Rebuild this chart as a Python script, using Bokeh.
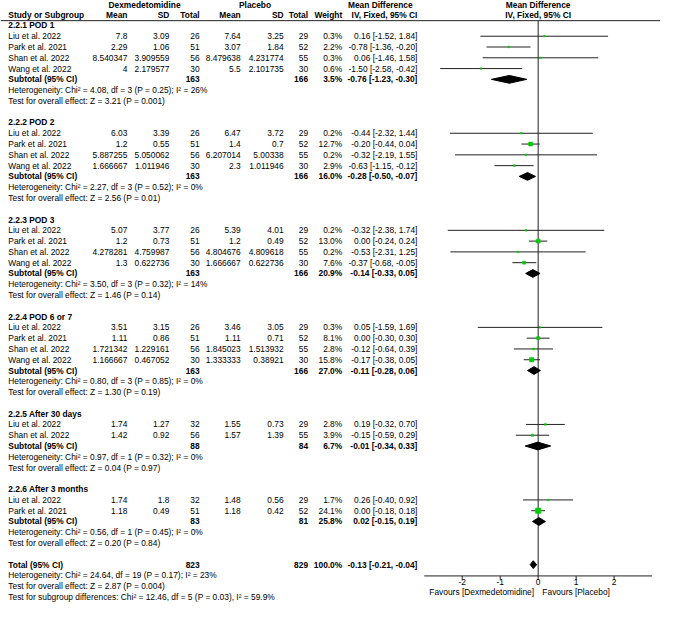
import math
from bokeh.plotting import figure
from bokeh.models import Range1d, ColumnDataSource
from bokeh.embed import file_html
from bokeh.resources import INLINE
from bokeh.core.properties import value

# ---------------- data ----------------
subgroup_titles = ["2.2.1 POD 1", "2.2.2 POD 2", "2.2.3 POD 3", "2.2.4 POD 6 or 7",
                   "2.2.5 After 30 days", "2.2.6 After 3 months"]
study_names = [
    ["Liu et al. 2022", "Park et al. 2021", "Shan et al. 2022", "Wang et al. 2022"],
    ["Liu et al. 2022", "Park et al. 2021", "Shan et al. 2022", "Wang et al. 2022"],
    ["Liu et al. 2022", "Park et al. 2021", "Shan et al. 2022", "Wang et al. 2022"],
    ["Liu et al. 2022", "Park et al. 2021", "Shan et al. 2022", "Wang et al. 2022"],
    ["Liu et al. 2022", "Shan et al. 2022"],
    ["Liu et al. 2022", "Park et al. 2021"],
]
dex_mean = [[7.8, 2.29, 8.540347, 4], [6.03, 1.2, 5.887255, 1.666667],
            [5.07, 1.2, 4.278281, 1.3], [3.51, 1.11, 1.721342, 1.166667],
            [1.74, 1.42], [1.74, 1.18]]
dex_sd = [[3.09, 1.06, 3.909559, 2.179577], [3.39, 0.55, 5.050062, 1.011946],
          [3.77, 0.73, 4.759987, 0.622736], [3.15, 0.86, 1.229161, 0.467052],
          [1.27, 0.92], [1.8, 0.49]]
dex_n = [[26, 51, 56, 30], [26, 51, 56, 30], [26, 51, 56, 30], [26, 51, 56, 30],
         [32, 56], [32, 51]]
pla_mean = [[7.64, 3.07, 8.479638, 5.5], [6.47, 1.4, 6.207014, 2.3],
            [5.39, 1.2, 4.804676, 1.666667], [3.46, 1.11, 1.845023, 1.333333],
            [1.55, 1.57], [1.48, 1.18]]
pla_sd = [[3.25, 1.84, 4.231774, 2.101735], [3.72, 0.7, 5.00338, 1.011946],
          [4.01, 0.49, 4.809618, 0.622736], [3.05, 0.71, 1.513932, 0.38921],
          [0.73, 1.39], [0.56, 0.42]]
pla_n = [[29, 52, 55, 30], [29, 52, 55, 30], [29, 52, 55, 30], [29, 52, 55, 30],
         [29, 55], [29, 52]]
weight = [[0.3, 2.2, 0.3, 0.6], [0.2, 12.7, 0.2, 2.9], [0.2, 13.0, 0.2, 7.6],
          [0.3, 8.1, 2.8, 15.8], [2.8, 3.9], [1.7, 24.1]]
md = [[0.16, -0.78, 0.06, -1.50], [-0.44, -0.20, -0.32, -0.63], [-0.32, 0.00, -0.53, -0.37],
      [0.05, 0.00, -0.12, -0.17], [0.19, -0.15], [0.26, 0.00]]
ci_lo = [[-1.52, -1.36, -1.46, -2.58], [-2.32, -0.44, -2.19, -1.15], [-2.38, -0.24, -2.31, -0.68],
         [-1.59, -0.30, -0.64, -0.38], [-0.32, -0.59], [-0.40, -0.18]]
ci_hi = [[1.84, -0.20, 1.58, -0.42], [1.44, 0.04, 1.55, -0.12], [1.74, 0.24, 1.25, -0.05],
         [1.69, 0.30, 0.39, 0.05], [0.70, 0.29], [0.92, 0.18]]
sub_dex_n = [163, 163, 163, 163, 88, 83]
sub_pla_n = [166, 166, 166, 166, 84, 81]
sub_weight = [3.5, 16.0, 20.9, 27.0, 6.7, 25.8]
sub_md = [-0.76, -0.28, -0.14, -0.11, -0.01, 0.02]
sub_lo = [-1.23, -0.50, -0.33, -0.28, -0.34, -0.15]
sub_hi = [-0.30, -0.07, 0.05, 0.06, 0.33, 0.19]
het_chi2 = ["4.08", "2.27", "3.50", "0.80", "0.97", "0.56"]
het_df = [3, 3, 3, 3, 1, 1]
het_p = ["0.25", "0.52", "0.32", "0.85", "0.32", "0.45"]
het_i2 = ["26%", "0%", "14%", "0%", "0%", "0%"]
z_val = ["3.21", "2.56", "1.46", "1.30", "0.04", "0.20"]
z_p = ["0.001", "0.01", "0.14", "0.19", "0.97", "0.84"]
total_dex_n = 823
total_pla_n = 829
total_weight = 100.0
total_md, total_lo, total_hi = -0.13, -0.21, -0.04
total_het = "Heterogeneity: Chi\u00b2 = 24.64, df = 19 (P = 0.17); I\u00b2 = 23%"
total_z = "Test for overall effect: Z = 2.87 (P = 0.004)"
subgroup_diff = "Test for subgroup differences: Chi\u00b2 = 12.46, df = 5 (P = 0.03), I\u00b2 = 59.9%"
axis_ticks = [-2, -1, 0, 1, 2]
axis_tick_labels = ["-2", "-1", "0", "1", "2"]
axis_limits = (-3, 3)
favours_left = "Favours [Dexmedetomidine]"
favours_right = "Favours [Placebo]"

# ---------------- layout constants (reference pixel space) ----------------
W_REF, H_REF = 676, 619
ROW0, PITCH = 25.6, 11.07
ZERO_PX, UNIT_PX = 550.7, 38.9
X_NAME = 8
X_DMEAN, X_DSD, X_DN = 130, 173, 204
X_PMEAN, X_PSD, X_PN = 246, 290, 315
X_W, X_CI = 350, 427
HDR1_Y, HDR2_Y, HLINE_Y = 4.8, 15.0, 20.7
AXIS_Y = 590.7
FS = "8.4px"
FONT = "Liberation Sans"
GREEN = "#00cc00"
LINE_C = "#222222"


def ry(k):
    return ROW0 + PITCH * k


def fnum(v):
    s = ("%f" % v).rstrip("0").rstrip(".")
    return s


def fci(m, lo, hi):
    return "%.2f [%.2f, %.2f]" % (m, lo, hi)


texts = {}


def add(x, y, t, align="left", bold=False):
    key = (align, bold)
    d = texts.setdefault(key, {"x": [], "y": [], "text": []})
    d["x"].append(x)
    d["y"].append(y)
    d["text"].append(t)


# headers
add(147.5, HDR1_Y, "Dexmedetomidine", "center", True)
add(260.7, HDR1_Y, "Placebo", "center", True)
add(389, HDR1_Y, "Mean Difference", "center", True)
add(ZERO_PX, HDR1_Y, "Mean Difference", "center", True)
add(X_NAME, HDR2_Y, "Study or Subgroup", "left", True)
for x, t in [(X_DMEAN, "Mean"), (X_DSD, "SD"), (X_DN, "Total"), (X_PMEAN, "Mean"),
             (X_PSD, "SD"), (X_PN, "Total"), (X_W, "Weight"), (X_CI, "IV, Fixed, 95% CI")]:
    add(x, HDR2_Y, t, "right", True)
add(ZERO_PX, HDR2_Y, "IV, Fixed, 95% CI", "center", True)

st = {"x0": [], "x1": [], "y": [], "mx": [], "size": []}
dia = {"xs": [], "ys": []}
DH = 4.0

row = 0
for g in range(len(subgroup_titles)):
    add(X_NAME, ry(row), subgroup_titles[g], "left", True)
    row += 1
    for i in range(len(study_names[g])):
        y = ry(row)
        add(X_NAME, y, study_names[g][i])
        add(X_DMEAN, y, fnum(dex_mean[g][i]), "right")
        add(X_DSD, y, fnum(dex_sd[g][i]), "right")
        add(X_DN, y, str(dex_n[g][i]), "right")
        add(X_PMEAN, y, fnum(pla_mean[g][i]), "right")
        add(X_PSD, y, fnum(pla_sd[g][i]), "right")
        add(X_PN, y, str(pla_n[g][i]), "right")
        add(X_W, y, "%.1f%%" % weight[g][i], "right")
        add(X_CI, y, fci(md[g][i], ci_lo[g][i], ci_hi[g][i]), "right")
        st["x0"].append(ci_lo[g][i])
        st["x1"].append(ci_hi[g][i])
        st["y"].append(y)
        st["mx"].append(md[g][i])
        st["size"].append(max(1.6, 1.1 * math.sqrt(weight[g][i])))
        row += 1
    y = ry(row)
    add(X_NAME, y, "Subtotal (95% CI)", "left", True)
    add(X_DN, y, str(sub_dex_n[g]), "right", True)
    add(X_PN, y, str(sub_pla_n[g]), "right", True)
    add(X_W, y, "%.1f%%" % sub_weight[g], "right", True)
    add(X_CI, y, fci(sub_md[g], sub_lo[g], sub_hi[g]), "right", True)
    dia["xs"].append([sub_lo[g], sub_md[g], sub_hi[g], sub_md[g]])
    dia["ys"].append([y, y - DH, y, y + DH])
    row += 1
    add(X_NAME, ry(row), "Heterogeneity: Chi\u00b2 = %s, df = %d (P = %s); I\u00b2 = %s"
        % (het_chi2[g], het_df[g], het_p[g], het_i2[g]))
    row += 1
    add(X_NAME, ry(row), "Test for overall effect: Z = %s (P = %s)" % (z_val[g], z_p[g]))
    row += 2

y = ry(row)
add(X_NAME, y, "Total (95% CI)", "left", True)
add(X_DN, y, str(total_dex_n), "right", True)
add(X_PN, y, str(total_pla_n), "right", True)
add(X_W, y, "%.1f%%" % total_weight, "right", True)
add(X_CI, y, fci(total_md, total_lo, total_hi), "right", True)
dia["xs"].append([total_lo, total_md, total_hi, total_md])
dia["ys"].append([y, y - DH, y, y + DH])
row += 1
add(X_NAME, ry(row), total_het)
row += 1
add(X_NAME, ry(row), total_z)
row += 1
add(X_NAME, ry(row), subgroup_diff)

# ---------------- figure ----------------
p = figure(width=660, height=603, x_range=Range1d(0, W_REF), y_range=Range1d(H_REF, 0),
           output_backend="svg", toolbar_location=None, min_border=0,
           x_axis_type=None, y_axis_type=None)
p.grid.visible = False
p.outline_line_color = None
p.background_fill_color = "white"
p.border_fill_color = "white"
p.extra_x_ranges = {"md": Range1d((0 - ZERO_PX) / UNIT_PX, (W_REF - ZERO_PX) / UNIT_PX)}

# header rule
p.segment(x0=[0], x1=[W_REF], y0=[HLINE_Y], y1=[HLINE_Y], line_color=LINE_C, line_width=1)

# zero line and axis
p.segment(x0=[0], x1=[0], y0=[HLINE_Y], y1=[AXIS_Y], line_color=LINE_C, line_width=1,
          x_range_name="md")
p.segment(x0=[axis_limits[0]], x1=[axis_limits[1]], y0=[AXIS_Y], y1=[AXIS_Y],
          line_color=LINE_C, line_width=1, x_range_name="md")
p.segment(x0=axis_ticks, x1=axis_ticks, y0=[AXIS_Y] * len(axis_ticks),
          y1=[AXIS_Y + 4] * len(axis_ticks), line_color=LINE_C, line_width=1,
          x_range_name="md")
p.text(x=axis_ticks, y=[AXIS_Y + 6.5] * len(axis_ticks), text=axis_tick_labels,
       text_align="center", text_baseline="middle", text_font=value(FONT),
       text_font_size=value(FS), text_color="black", x_range_name="md")
p.text(x=[546.5], y=[607.5], text=[favours_left], text_align="right", text_baseline="middle",
       text_font=value(FONT), text_font_size=value(FS), text_color="black")
p.text(x=[555], y=[607.5], text=[favours_right], text_align="left", text_baseline="middle",
       text_font=value(FONT), text_font_size=value(FS), text_color="black")

# study CIs and squares
src = ColumnDataSource(st)
p.segment(x0="x0", x1="x1", y0="y", y1="y", source=src, line_color=LINE_C, line_width=1,
          x_range_name="md")
p.scatter(x="mx", y="y", size="size", marker="square", source=src, fill_color=GREEN,
          line_color=GREEN, line_width=0.5, x_range_name="md")
p.patches(xs="xs", ys="ys", source=ColumnDataSource(dia), fill_color="black",
          line_color="black", x_range_name="md")

# text
for (align, bold), d in texts.items():
    p.text(x="x", y="y", text="text", source=ColumnDataSource(d), text_align=align,
           text_baseline="middle", text_font=value(FONT), text_font_size=value(FS),
           text_font_style="bold" if bold else "normal", text_color="black")

open("out.html", "w").write(file_html(p, INLINE))
